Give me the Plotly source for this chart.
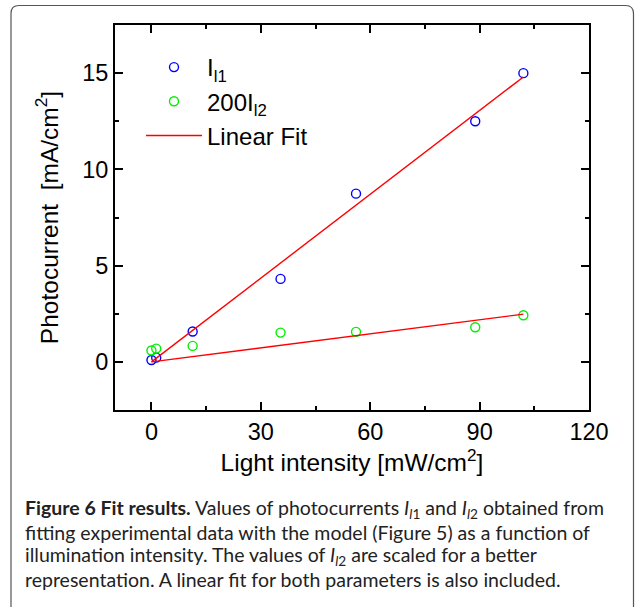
import plotly.graph_objects as go

# Data
intensity = [0, 1.3, 11.3, 35.4, 56.1, 88.8, 102]
i_l1 = [0.1, 0.22, 1.58, 4.31, 8.74, 12.5, 15.0]
i_l2_x200 = [0.59, 0.69, 0.83, 1.52, 1.56, 1.80, 2.42]
fit_x = [0, 102]
fit_l1 = [0, 14.8]
fit_l2 = [0, 2.48]

x_ticks = [0, 30, 60, 90, 120]
y_ticks = [0, 5, 10, 15]

caption_lines = [
    "<b>Figure 6 Fit results.</b> Values of photocurrents <i>I</i><sub><i>l</i>1</sub> and <i>I</i><sub><i>l</i>2</sub> obtained from",
    "fitting experimental data with the model (Figure 5) as a function of",
    "illumination intensity. The values of <i>I</i><sub><i>l</i>2</sub> are scaled for a better",
    "representation. A linear fit for both parameters is also included.",
]

W, H = 635, 607
L, R, T, B = 115, 46, 25, 197
pw, ph = W - L - R, H - T - B

def px(x):
    return (x - L) / pw

def py(y):
    return (H - B - y) / ph

fig = go.Figure()
fig.add_trace(go.Scatter(
    x=intensity, y=i_l1, mode="markers", name="I<sub>l1</sub>",
    marker=dict(symbol="circle-open", size=9, color="#0000ff", line=dict(width=1.4)),
))
fig.add_trace(go.Scatter(
    x=intensity, y=i_l2_x200, mode="markers", name="200I<sub>l2</sub>",
    marker=dict(symbol="circle-open", size=9, color="#00ee00", line=dict(width=1.4)),
))
fig.add_trace(go.Scatter(
    x=fit_x, y=fit_l1, mode="lines", name="Linear Fit",
    line=dict(color="#ff0000", width=1.4),
))
fig.add_trace(go.Scatter(
    x=fit_x, y=fit_l2, mode="lines", name="Linear Fit", showlegend=False,
    line=dict(color="#ff0000", width=1.4),
))

tick_font = dict(family="Liberation Sans, Arial, sans-serif", size=23.5, color="#000")
title_font = dict(family="Liberation Sans, Arial, sans-serif", size=24.5, color="#000")
common = dict(
    showgrid=False, zeroline=False, showline=True, linecolor="#000", linewidth=2,
    mirror="allticks", ticks="inside", ticklen=8, tickwidth=1.5, tickcolor="#000",
    tickfont=tick_font,
)
fig.update_xaxes(
    range=[-10, 120], tickvals=x_ticks, ticktext=[str(v) for v in x_ticks],
    minor=dict(ticks="inside", ticklen=4, tickwidth=1.5, tickcolor="#000", dtick=15, tick0=15),
    title=dict(text="Light intensity [mW/cm<sup>2</sup>]", font=title_font, standoff=8),
    **common,
)
fig.update_yaxes(
    range=[-2.5, 17.5], tickvals=y_ticks, ticktext=[str(v) for v in y_ticks],
    minor=dict(ticks="inside", ticklen=4, tickwidth=1.5, tickcolor="#000", dtick=2.5, tick0=2.5),
    title=dict(text="Photocurrent&nbsp; [mA/cm<sup>2</sup>]", font=title_font, standoff=17),
    **common,
)

# rounded frame around the whole figure
x0, x1 = px(11), px(633.5)
y0, y1 = py(620), py(5.5)
rx, ry = 8 / pw, 8 / ph
path = (f"M {x0},{y0} L {x0},{y1-ry} Q {x0},{y1} {x0+rx},{y1} "
        f"L {x1-rx},{y1} Q {x1},{y1} {x1},{y1-ry} L {x1},{y0}")
fig.add_shape(type="path", path=path, xref="paper", yref="paper",
              line=dict(color="#555", width=1.2))

cap_font = dict(family="Lato, sans-serif", size=19.5, color="#222")
for i, line in enumerate(caption_lines):
    fig.add_annotation(
        text=line, xref="paper", yref="paper", x=px(23), y=py(509 + i * 23.6),
        xanchor="left", yanchor="middle", showarrow=False, align="left", font=cap_font,
    )

fig.update_layout(
    width=W, height=H, margin=dict(l=L, r=R, t=T, b=B),
    paper_bgcolor="white", plot_bgcolor="white", showlegend=True,
    legend=dict(
        x=px(141), y=py(45), xanchor="left", yanchor="top",
        bgcolor="rgba(0,0,0,0)", font=dict(family="Liberation Sans, Arial, sans-serif", size=24, color="#000"),
        itemwidth=56, tracegroupgap=0,
    ),
)

fig.write_html("out.html", config={"displayModeBar": False},
               post_script="document.body.style.margin='0';")
